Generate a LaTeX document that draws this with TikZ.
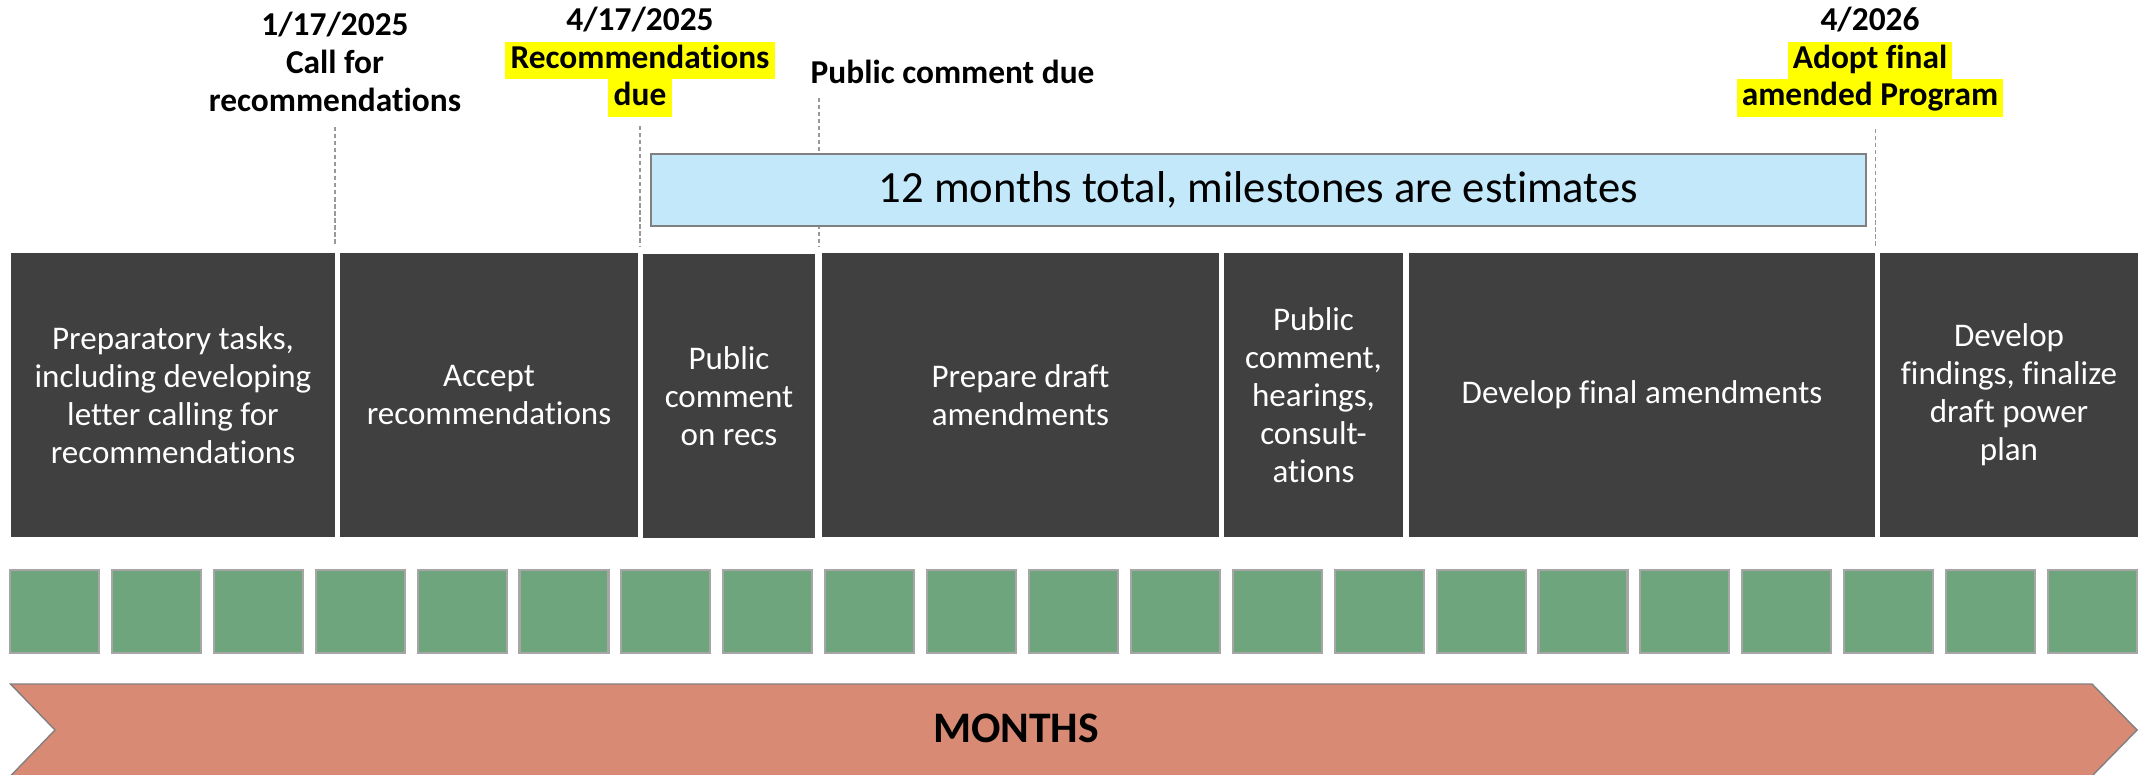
\documentclass[tikz,border=0pt]{standalone}
\usepackage{fontspec}
\setmainfont{Carlito}[Ligatures=NoCommon]
\usetikzlibrary{positioning}
\definecolor{phasegray}{HTML}{404040}
\definecolor{spanblue}{HTML}{C2E8FA}
\definecolor{monthgreen}{HTML}{6FA57D}
\definecolor{arrowsalmon}{HTML}{D98A75}
\definecolor{hlyellow}{HTML}{FFFF00}
\newcommand{\hlite}[1]{{\setlength{\fboxsep}{0pt}\colorbox{hlyellow}{\strut\kern1.5pt #1\kern1.5pt}}}

\begin{document}
\begin{tikzpicture}[x=1mm,y=-1mm,
  phase/.style={fill=phasegray,text=white,align=center,inner sep=0pt,
    minimum height=28.4mm,font=\fontsize{9.4}{10.8}\selectfont},
  mslabel/.style={align=center,inner sep=0pt,font=\fontsize{9.5}{10.7}\selectfont\bfseries},
  tick/.style={gray!80,line width=0.3pt,dash pattern=on 1.2pt off 0.8pt},
  month/.style={fill=monthgreen,draw=gray!70,line width=0.6pt,inner sep=0pt,
    minimum width=8.9mm,minimum height=8.3mm}]
  \useasboundingbox (0,0) rectangle (214.4,77.4);

  % ====== Milestones ======
  \node[mslabel] (ms1) at (33.5,6.2) {1/17/2025\\Call for\\recommendations};
  \node[mslabel] (ms2) at (64.0,6.2) {4/17/2025\\\hlite{Recommendations}\\\hlite{due}};
  \node[mslabel,anchor=west] (ms3) at (81.0,7.2) {Public comment due};
  \node[mslabel] (ms4) at (187.0,6.2) {4/2026\\\hlite{Adopt final}\\\hlite{amended Program}};

  \coordinate (k1a) at (33.5,12.7);  \coordinate (k1b) at (33.5,24.6);
  \coordinate (k2a) at (64.0,12.6);  \coordinate (k2b) at (64.0,24.6);
  \coordinate (k3a) at (81.9,9.8);   \coordinate (k3b) at (81.9,24.6);
  \coordinate (k4a) at (187.5,12.9); \coordinate (k4b) at (187.5,24.6);
  \foreach \k in {1,2,3,4}{
    \draw[tick] (k\k a) -- (k\k b);
  }

  % ====== Overall span ======
  \node[draw=gray,fill=spanblue,minimum width=121.5mm,minimum height=7.2mm,
    font=\fontsize{12.7}{15}\selectfont] (span) at (125.85,19.0)
    {12 months total, milestones are estimates};

  % ====== Phases ======
  \node[phase,minimum width=32.4mm] (p1) at (17.3,39.5)
    {Preparatory tasks,\\including developing\\letter calling for\\recommendations};
  \node[phase,minimum width=29.8mm] (p2) at (48.9,39.5) {Accept\\recommendations};
  \node[phase,minimum width=17.2mm] (p3) at (72.9,39.6) {Public\\comment\\on recs};
  \node[phase,minimum width=39.7mm] (p4) at (102.05,39.5) {Prepare draft\\amendments};
  \node[phase,minimum width=17.9mm] (p5) at (131.35,39.5)
    {Public\\comment,\\hearings,\\consult-\\ations};
  \node[phase,minimum width=46.6mm] (p6) at (164.2,39.5) {Develop final amendments};
  \node[phase,minimum width=25.8mm] (p7) at (200.9,39.5)
    {Develop\\findings, finalize\\draft power\\plan};

  % ====== Months ======
  \foreach \i in {0,...,20}{
    \node[month] (mo\i) at ({5.45+10.19*\i},61.15) {};
  }

  % ====== Months arrow ======
  \draw[gray,fill=arrowsalmon] (1.05,68.4) -- (209.2,68.4) -- (213.7,73.0)
    -- (209.2,77.6) -- (1.05,77.6) -- (5.5,73.0) -- cycle;
  \node[font=\fontsize{12.4}{14}\selectfont\bfseries] (months) at (101.6,72.8) {MONTHS};
\end{tikzpicture}
\end{document}
